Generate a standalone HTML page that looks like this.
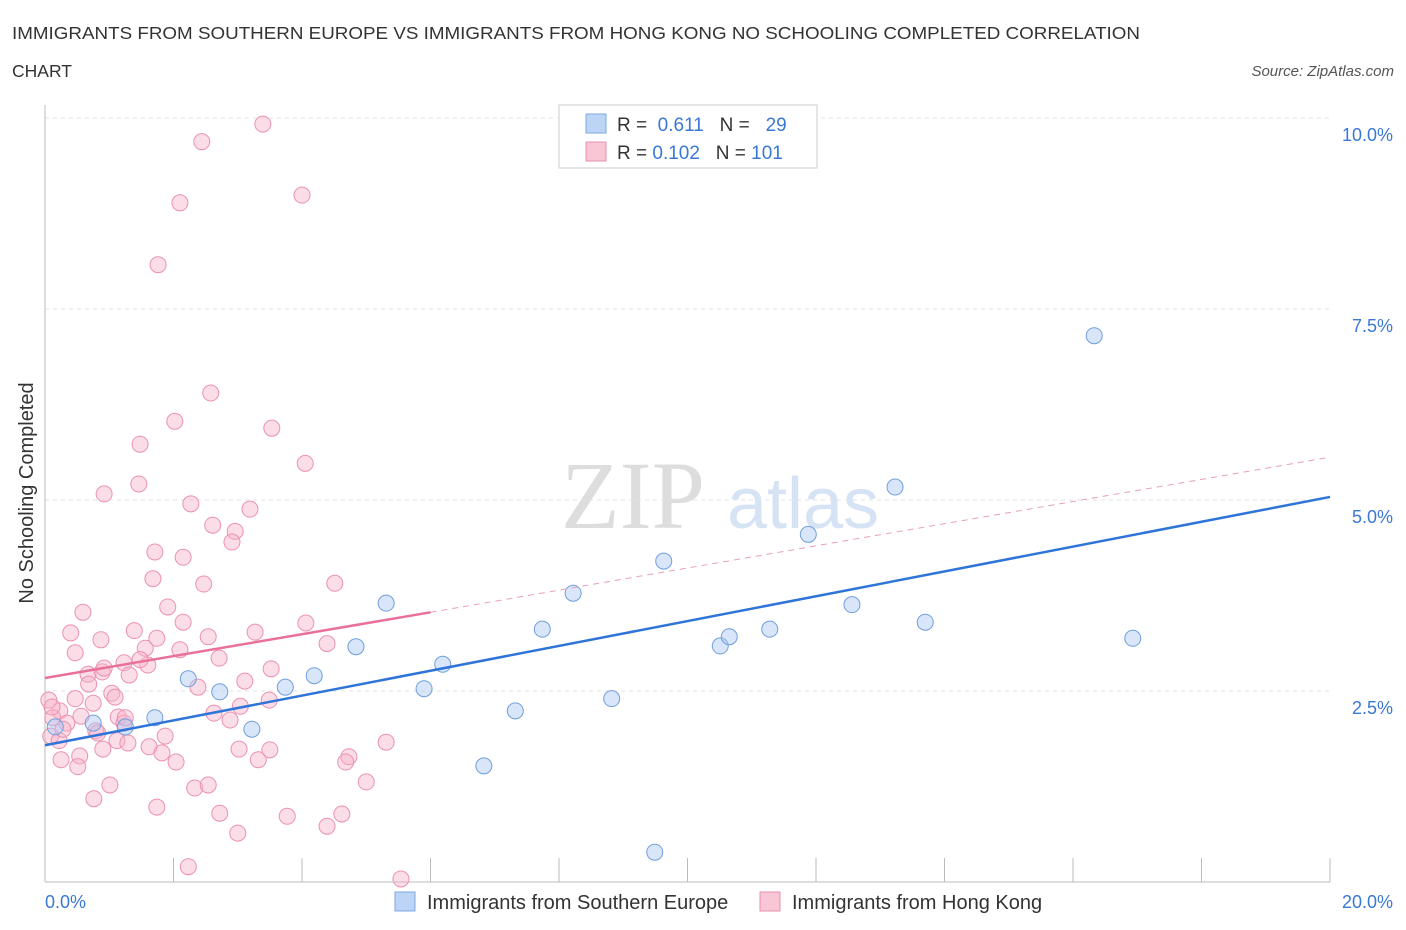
<!DOCTYPE html>
<html><head><meta charset="utf-8"><style>
body{margin:0;background:#fff;font-family:"Liberation Sans",sans-serif;}
svg{display:block}
</style></head><body>
<svg id="c" width="1406" height="930">
<text x="12" y="39" font-size="17.5" textLength="1128" lengthAdjust="spacingAndGlyphs" fill="#333">IMMIGRANTS FROM SOUTHERN EUROPE VS IMMIGRANTS FROM HONG KONG NO SCHOOLING COMPLETED CORRELATION</text>
<text x="12" y="77" font-size="17.5" fill="#333">CHART</text>
<text x="1394" y="76" font-size="15" fill="#555" font-style="italic" text-anchor="end">Source: ZipAtlas.com</text>
<text x="633" y="528" font-size="96" fill="#ddd" font-family="Liberation Serif,serif" text-anchor="middle">ZIP</text>
<text x="803" y="528" font-size="72" fill="#d6e3f5" text-anchor="middle">atlas</text>
<text x="33" y="493" font-size="20" fill="#333" text-anchor="middle" transform="rotate(-90 33 493)">No Schooling Completed</text>
<g id="grid"></g><g id="pts"></g><g id="lines"></g>
<g>
<rect x="559" y="105" width="258" height="63" fill="#fff" stroke="#ccc"/>
<rect x="586" y="114" width="20" height="19" fill="#bcd4f5" stroke="#7fa8e0"/>
<text x="617" y="131" font-size="19" fill="#333">R = <tspan fill="#3a78d6">&#160;0.611</tspan>&#160;&#160;&#160;N = <tspan fill="#3a78d6">&#160;&#160;29</tspan></text>
<rect x="586" y="142" width="20" height="19" fill="#f9c6d6" stroke="#e890ad"/>
<text x="617" y="159" font-size="19" fill="#333">R = <tspan fill="#3a78d6">0.102</tspan>&#160;&#160;&#160;N = <tspan fill="#3a78d6">101</tspan></text>
</g>
<g>
<rect x="395" y="892" width="20" height="19" fill="#bcd4f5" stroke="#7fa8e0"/>
<text x="427" y="909" font-size="20" fill="#333">Immigrants from Southern Europe</text>
<rect x="760" y="892" width="20" height="19" fill="#f9c6d6" stroke="#e890ad"/>
<text x="792" y="909" font-size="20" fill="#333">Immigrants from Hong Kong</text>
</g>
</svg>
<script>
const blueX=[0.16,0.75,1.25,1.71,2.23,2.72,3.22,3.74,4.19,4.84,5.31,5.90,6.19,6.83,7.32,7.74,8.22,8.82,9.63,10.51,10.65,11.28,11.88,12.56,13.23,13.70,16.33,16.93,9.49];
const blueY=[2.03,2.08,2.03,2.15,2.66,2.49,2.00,2.55,2.70,3.08,3.65,2.53,2.85,1.52,2.24,3.31,3.78,2.40,4.20,3.09,3.21,3.31,4.55,3.63,5.17,3.40,7.15,3.19,0.39];
const pinkX=[3.39,2.44,2.10,4.00,1.76,2.58,2.02,3.53,1.48,4.05,0.92,1.46,2.27,3.19,2.61,2.96,2.91,1.71,2.15,1.68,2.47,4.51,0.59,1.91,2.15,4.06,0.40,1.39,0.87,1.74,2.54,3.27,4.39,0.47,1.56,2.71,1.23,1.60,0.67,0.89,1.31,3.52,0.68,2.38,3.11,0.06,0.47,1.04,1.09,0.75,0.23,0.12,0.56,1.14,0.34,2.63,3.04,3.49,1.23,0.09,0.22,0.79,0.82,1.87,1.12,1.29,1.62,3.02,5.31,4.73,0.54,0.90,0.25,0.51,1.82,2.04,3.32,4.68,5.00,1.01,2.33,2.54,0.76,1.74,2.72,3.77,4.62,4.39,3.00,2.23,5.54,0.11,0.28,1.25,2.88,0.92,1.48,2.10,3.50];
const pinkY=[9.92,9.69,8.89,8.99,8.08,6.40,6.03,5.94,5.73,5.48,5.08,5.21,4.95,4.88,4.67,4.59,4.45,4.32,4.25,3.97,3.90,3.91,3.53,3.60,3.40,3.39,3.26,3.29,3.17,3.19,3.21,3.27,3.12,3.00,3.06,2.93,2.87,2.84,2.72,2.75,2.71,2.79,2.59,2.55,2.63,2.38,2.40,2.47,2.42,2.34,2.24,2.15,2.17,2.16,2.08,2.21,2.30,2.38,2.08,1.91,1.85,1.98,1.95,1.91,1.85,1.82,1.77,1.74,1.83,1.64,1.65,1.74,1.60,1.51,1.69,1.57,1.60,1.57,1.31,1.27,1.23,1.27,1.09,0.98,0.90,0.86,0.89,0.73,0.64,0.20,0.04,2.29,2.00,2.15,2.12,2.80,2.91,3.04,1.73];
const yTicks=[2.5,5.0,7.5,10.0];
const xTickVals=[0,2,4,6,8,10,12,14,16,18,20];
const blueLine=[[0,1.79],[20,5.04]];
const pinkLine=[[0,2.67],[6,3.53],[20,5.56]];
const X=v=>45+v*64.25, Y=v=>882-v*76.4;
const NS="http://www.w3.org/2000/svg";
function mk(p,t,a){const e=document.createElementNS(NS,t);for(const k in a)e.setAttribute(k,a[k]);p.appendChild(e);return e;}
const g=document.getElementById('grid');
yTicks.forEach(t=>{const l=mk(g,'line',{x1:45,x2:1330,y1:Y(t),y2:Y(t),stroke:'#e3e3e3','stroke-dasharray':'4,4'});


const tx=mk(g,'text',{x:1393,y:Y(t)+23,'font-size':18,fill:'#3a78d6','text-anchor':'end'});tx.textContent=t.toFixed(1)+'%';

});
const ax=mk(g,'line',{x1:45,x2:1330,y1:882,y2:882,stroke:'#bbb'});


const ay=mk(g,'line',{x1:45,x2:45,y1:105,y2:882,stroke:'#bbb'});


xTickVals.forEach(t=>{const l=mk(g,'line',{x1:X(t),x2:X(t),y1:858,y2:882,stroke:'#bbb'});

});
[[0,'0.0%','start',45],[20,'20.0%','end',1393]].forEach(([v,s,a,x])=>{const tx=mk(g,'text',{x:x,y:908,'font-size':18,fill:'#3a78d6','text-anchor':a});tx.textContent=s;

});
const pg=document.getElementById('pts');
pinkX.forEach((x,i)=>{const c=mk(pg,'circle',{cx:X(x),cy:Y(pinkY[i]),r:8,fill:'rgba(246,180,202,0.45)',stroke:'#eb92b0','stroke-width':1});

});
blueX.forEach((x,i)=>{const c=mk(pg,'circle',{cx:X(x),cy:Y(blueY[i]),r:8,fill:'rgba(170,200,242,0.45)',stroke:'#6f9fdc','stroke-width':1});

});
const lg=document.getElementById('lines');
const bl=mk(lg,'line',{x1:X(blueLine[0][0]),y1:Y(blueLine[0][1]),x2:X(blueLine[1][0]),y2:Y(blueLine[1][1]),stroke:'#2f74d8','stroke-width':2.5});


const pl=mk(lg,'line',{x1:X(pinkLine[0][0]),y1:Y(pinkLine[0][1]),x2:X(pinkLine[1][0]),y2:Y(pinkLine[1][1]),stroke:'#e8709a','stroke-width':2.5});


const pd=mk(lg,'line',{x1:X(pinkLine[1][0]),y1:Y(pinkLine[1][1]),x2:X(pinkLine[2][0]),y2:Y(pinkLine[2][1]),stroke:'#e8a0b8','stroke-width':1,'stroke-dasharray':'6,5'});


</script>
</body></html>
